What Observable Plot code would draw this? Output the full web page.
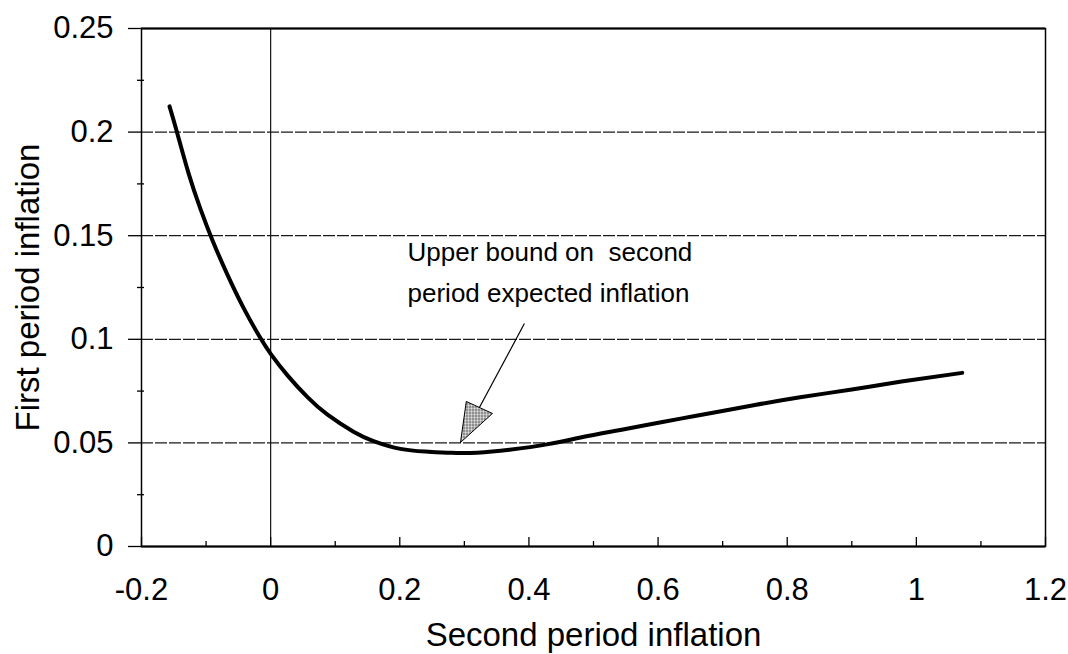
<!DOCTYPE html>
<html><head><meta charset="utf-8">
<script src="https://cdn.jsdelivr.net/npm/d3@7"></script>
<script src="https://cdn.jsdelivr.net/npm/@observablehq/plot@0.6"></script>
<style>body{margin:0;background:#fff} svg{display:block}</style>
</head><body><div id="chart"></div>
<script>
const curveX = [-0.1566, -0.1458, -0.1272, -0.1086, -0.0900, -0.0668, -0.0420, -0.0172, -0.0002, 0.0261, 0.0571, 0.0881, 0.1283, 0.1593, 0.2011, 0.24, 0.28, 0.32, 0.37, 0.43, 0.48, 0.53, 0.58, 0.635, 0.687, 0.75, 0.82, 0.9, 0.977, 1.071];
const curveY = [0.2124, 0.2008, 0.1802, 0.1628, 0.1477, 0.1311, 0.1152, 0.1013, 0.0931, 0.0826, 0.0721, 0.0636, 0.0554, 0.0509, 0.0471, 0.0458, 0.0452, 0.0453, 0.0467, 0.0494, 0.0526, 0.0556, 0.0585, 0.0617, 0.0647, 0.0683, 0.0720, 0.0758, 0.0796, 0.0838];
const xTicks = [-0.2, 0, 0.2, 0.4, 0.6, 0.8, 1, 1.2];
const xTickLabels = ["-0.2", "0", "0.2", "0.4", "0.6", "0.8", "1", "1.2"];
const xMinorTicks = [-0.1, 0.1, 0.3, 0.5, 0.7, 0.9, 1.1];
const yTicks = [0, 0.05, 0.1, 0.15, 0.2, 0.25];
const yTickLabels = ["0", "0.05", "0.1", "0.15", "0.2", "0.25"];
const yMinorTicks = [0.025, 0.075, 0.125, 0.175, 0.225];
const gridY = [0.05, 0.1, 0.15, 0.2];
const xLabel = "Second period inflation";
const yLabel = "First period inflation";
const noteLines = ["Upper bound on \u00a0second", "period expected inflation"];
const noteAnchor = [{x: 0.212, y: 0.1514}];
const arrowLine = [{x1: 0.393, y1: 0.1076, x2: 0.3233, y2: 0.0671}];
const arrowHead = [{x: 0.294, y: 0.0502}, {x: 0.303, y: 0.070}, {x: 0.3435, y: 0.0642}, {x: 0.294, y: 0.0502}];

const curve = curveX.map((x, i) => ({x, y: curveY[i]}));
const W = 1068, H = 654, ML = 141, MR = 23, MT = 28, MB = 108;
const PW = W - ML - MR, PH = H - MT - MB;

const svg = Plot.plot({
  width: W, height: H,
  marginLeft: ML, marginRight: MR, marginTop: MT, marginBottom: MB,
  style: {fontFamily: "'Liberation Sans', Arial, sans-serif", fontSize: "31px", color: "black", background: "white"},
  x: {domain: [-0.2, 1.2], axis: null},
  y: {domain: [0, 0.25], axis: null},
  marks: [
    Plot.ruleY(gridY, {stroke: "#1a1a1a", strokeWidth: 1.3, strokeDasharray: "12,2"}),
    Plot.ruleX([0], {stroke: "#111", strokeWidth: 1.2}),
    Plot.frame({stroke: "black", strokeWidth: 1.5}),
    Plot.ruleY([0, 0.25], {stroke: "black", strokeWidth: 2}),
    Plot.ruleX(xTicks, {stroke: "black", strokeWidth: 1.3, insetTop: PH - 9}),
    Plot.ruleX(xMinorTicks, {stroke: "black", strokeWidth: 1.3, insetTop: PH - 5}),
    Plot.ruleY(yMinorTicks, {stroke: "black", strokeWidth: 1.3, insetRight: PW - 7, dx: -4}),
    Plot.axisY(yTicks, {anchor: "left", tickSize: 13, tickPadding: 15, tickFormat: d => yTickLabels[yTicks.indexOf(d)], label: null, strokeWidth: 1.3}),
    Plot.axisX(xTicks, {anchor: "bottom", tickSize: 0, tickPadding: 31, tickFormat: d => xTickLabels[xTicks.indexOf(d)], label: null}),
    Plot.line(curve, {x: "x", y: "y", curve: "natural", stroke: "black", strokeWidth: 4}),
    Plot.link(arrowLine, {x1: "x1", y1: "y1", x2: "x2", y2: "y2", stroke: "black", strokeWidth: 1.2}),
    Plot.line(arrowHead, {x: "x", y: "y", fill: "#a9a9a9", stroke: "black", strokeWidth: 1, curve: "linear"}),
    Plot.text(noteAnchor, {x: "x", y: "y", text: () => noteLines.join("\n"), textAnchor: "start", lineAnchor: "top", fontSize: 26, lineHeight: 1.55}),
    Plot.text([xLabel], {frameAnchor: "bottom", textAnchor: "middle", lineAnchor: "bottom", dy: 99, fontSize: 33}),
    Plot.text([yLabel], {frameAnchor: "left", textAnchor: "middle", rotate: -90, lineAnchor: "bottom", dx: -103, fontSize: 33})
  ]
});

// dotted fill pattern for the arrowhead
const ns = "http://www.w3.org/2000/svg";
const defs = document.createElementNS(ns, "defs");
const pat = document.createElementNS(ns, "pattern");
pat.setAttribute("id", "dots"); pat.setAttribute("width", "3"); pat.setAttribute("height", "3");
pat.setAttribute("patternUnits", "userSpaceOnUse");
const bg = document.createElementNS(ns, "rect");
bg.setAttribute("width", "3"); bg.setAttribute("height", "3"); bg.setAttribute("fill", "#e8e8e8");
const dot = document.createElementNS(ns, "circle");
dot.setAttribute("cx", "1.5"); dot.setAttribute("cy", "1.5"); dot.setAttribute("r", "0.9"); dot.setAttribute("fill", "#222");
pat.appendChild(bg); pat.appendChild(dot); defs.appendChild(pat);
svg.insertBefore(defs, svg.firstChild);
svg.querySelectorAll('[fill="#a9a9a9"]').forEach(el => el.setAttribute("fill", "url(#dots)"));

document.getElementById("chart").appendChild(svg);
</script>
</body></html>
